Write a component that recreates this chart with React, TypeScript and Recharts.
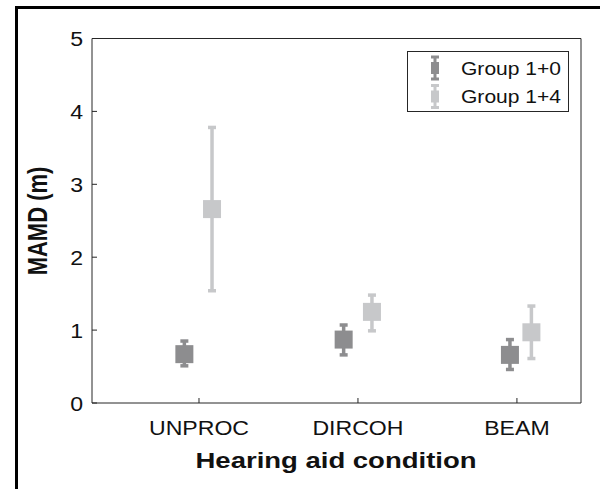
import React from "react";
import { ErrorBar, Label, Scatter, ScatterChart, XAxis, YAxis } from "recharts";

const categories = ["UNPROC", "DIRCOH", "BEAM"];
const yTicks = [0, 1, 2, 3, 4, 5];

// Group 1+0 (dark)
const group10Mean = [0.67, 0.87, 0.66];
const group10Low = [0.51, 0.66, 0.46];
const group10High = [0.85, 1.07, 0.87];

// Group 1+4 (light)
const group14Mean = [2.66, 1.25, 0.97];
const group14Low = [1.54, 0.99, 0.61];
const group14High = [3.78, 1.48, 1.33];

// horizontal dodge of each group around its category
const dodge10 = [-0.092, -0.09, -0.044];
const dodge14 = [0.082, 0.088, 0.091];

const DARK = "#8d8d8f";
const LIGHT = "#c7c8ca";
const AXIS = "#262626";
const FONT = "'Liberation Sans', Arial, Helvetica, sans-serif";
const SX = 1.1; // the original glyphs are a little wider than tall

const build = (mean: number[], low: number[], high: number[], dodge: number[]) =>
  mean.map((m, i) => ({
    x: i + 1 + dodge[i],
    y: m,
    err: [m - low[i], high[i] - m],
  }));

const data10 = build(group10Mean, group10Low, group10High, dodge10);
const data14 = build(group14Mean, group14Low, group14High, dodge14);

const square = (fill: string) => (props: any) => {
  const { cx, cy } = props;
  if (cx == null || cy == null) return <g />;
  return <rect x={cx - 9} y={cy - 9} width={18} height={18} fill={fill} />;
};

const XTick = ({ x, y, payload }: any) => (
  <text
    transform={`translate(${x},${y}) scale(${SX},1)`}
    textAnchor="middle"
    dy={7.5}
    fontSize={21}
    fontFamily={FONT}
    fill="#111"
  >
    {categories[payload.value - 1]}
  </text>
);

const YTick = ({ x, y, payload }: any) => (
  <text
    transform={`translate(${x},${y}) scale(${SX},1)`}
    textAnchor="end"
    dy={7.5}
    fontSize={21}
    fontFamily={FONT}
    fill="#111"
  >
    {payload.value}
  </text>
);

const XTitle = () => (
  <text
    transform="translate(336,468) scale(1.25,1)"
    textAnchor="middle"
    fontSize={22}
    fontWeight="bold"
    fontFamily={FONT}
    fill="#111"
  >
    Hearing aid condition
  </text>
);

const YTitle = () => (
  <text
    transform="translate(47,221) scale(1.25,1) rotate(-90)"
    textAnchor="middle"
    fontSize={22}
    fontWeight="bold"
    fontFamily={FONT}
    fill="#111"
  >
    MAMD (m)
  </text>
);

function LegendIcon({ y, color }: { y: number; color: string }) {
  return (
    <g>
      <line x1={28} x2={28} y1={y - 11} y2={y + 11} stroke={color} strokeWidth={3} />
      <line x1={24} x2={32} y1={y - 11} y2={y - 11} stroke={color} strokeWidth={3} />
      <line x1={24} x2={32} y1={y + 11} y2={y + 11} stroke={color} strokeWidth={3} />
      <rect x={24} y={y - 6} width={8} height={12} fill={color} />
    </g>
  );
}

function ChartLegend() {
  const rows = [
    { name: "Group 1+0", color: DARK, y: 17 },
    { name: "Group 1+4", color: LIGHT, y: 45.5 },
  ];
  return (
    <svg
      width={162}
      height={62}
      style={{ position: "absolute", left: 407, top: 51, overflow: "visible" }}
    >
      <rect x={0.5} y={0.5} width={161} height={60} fill="#fff" stroke={AXIS} strokeWidth={1} />
      {rows.map((r) => (
        <g key={r.name}>
          <LegendIcon y={r.y} color={r.color} />
          <text
            transform={`translate(54,${r.y + 6.5}) scale(1.17,1)`}
            fontSize={18}
            fontFamily={FONT}
            fill="#111"
          >
            {r.name}
          </text>
        </g>
      ))}
    </svg>
  );
}

export default function App() {
  return (
    <div style={{ position: "absolute", left: 0, top: 0, width: 600, height: 489, background: "#fff" }}>
      <div style={{ position: "absolute", left: 15, top: 6, width: 3, height: 483, background: "#000" }} />
      <div style={{ position: "absolute", left: 15, top: 6, width: 585, height: 3, background: "#000" }} />
      <div style={{ position: "absolute", left: 0, top: 0 }}>
        <ScatterChart width={600} height={489} margin={{ top: 37.5, right: 18, bottom: 0, left: 0 }}>
          <XAxis
            dataKey="x"
            type="number"
            domain={[0.327, 3.403]}
            ticks={[1, 2, 3]}
            allowDataOverflow
            height={86}
            stroke={AXIS}
            tickSize={-5}
            tickMargin={29}
            tick={<XTick />}
          >
            <Label content={<XTitle />} />
          </XAxis>
          <XAxis
            xAxisId="top"
            orientation="top"
            type="number"
            domain={[0.327, 3.403]}
            ticks={[1, 2, 3]}
            allowDataOverflow
            height={1}
            stroke={AXIS}
            tickSize={-5}
            tick={false}
          />
          <YAxis
            dataKey="y"
            type="number"
            domain={[0, 5]}
            ticks={yTicks}
            allowDataOverflow
            width={92}
            stroke={AXIS}
            tickSize={-5}
            tickMargin={14}
            tick={<YTick />}
          >
            <Label content={<YTitle />} />
          </YAxis>
          <YAxis
            yAxisId="right"
            orientation="right"
            type="number"
            domain={[0, 5]}
            ticks={yTicks}
            allowDataOverflow
            width={1}
            stroke={AXIS}
            tickSize={-5}
            tick={false}
          />
          <Scatter name="Group 1+0" data={data10} fill={DARK} shape={square(DARK)} isAnimationActive={false}>
            <ErrorBar dataKey="err" direction="y" width={4} strokeWidth={3.5} stroke={DARK} isAnimationActive={false} />
          </Scatter>
          <Scatter name="Group 1+4" data={data14} fill={LIGHT} shape={square(LIGHT)} isAnimationActive={false}>
            <ErrorBar dataKey="err" direction="y" width={4} strokeWidth={3.5} stroke={LIGHT} isAnimationActive={false} />
          </Scatter>
        </ScatterChart>
      </div>
      <ChartLegend />
    </div>
  );
}
